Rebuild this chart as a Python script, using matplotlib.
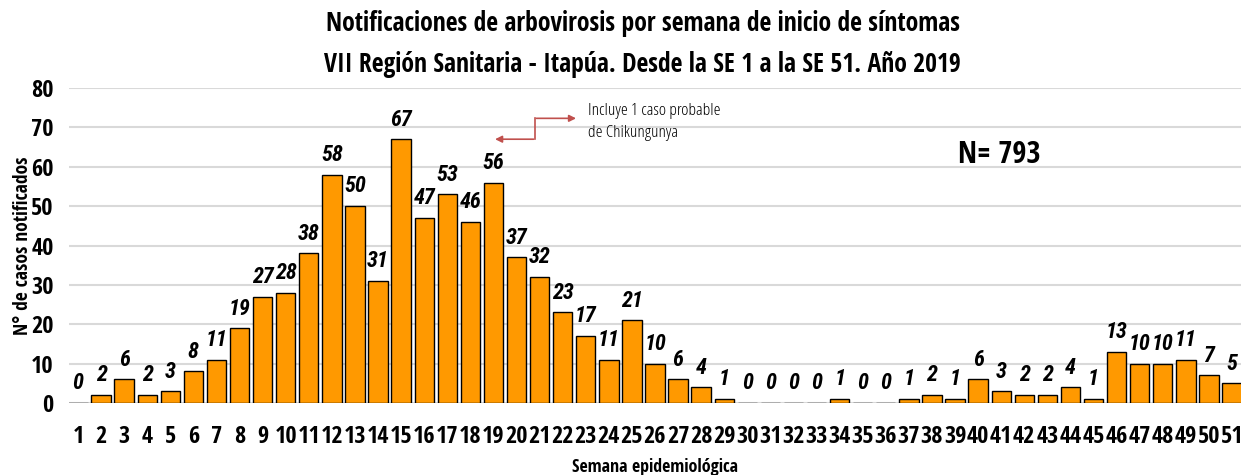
import matplotlib
matplotlib.use("Agg")
import matplotlib.pyplot as plt
from matplotlib import font_manager as fm

weeks = list(range(1, 52))
cases = [0, 2, 6, 2, 3, 8, 11, 19, 27, 28, 38, 58, 50, 31, 67, 47, 53, 46, 56, 37,
         32, 23, 17, 11, 21, 10, 6, 4, 1, 0, 0, 0, 0, 1, 0, 0, 1, 2, 1, 6,
         3, 2, 2, 4, 1, 13, 10, 10, 11, 7, 5]
yticks = [0, 10, 20, 30, 40, 50, 60, 70, 80]
title = ("Notificaciones de arbovirosis por semana de inicio de síntomas\n"
         "VII Región Sanitaria - Itapúa. Desde la SE 1 a la SE 51. Año 2019")
total_label = "N= 793"
note = "Incluye 1 caso probable\nde Chikungunya"


def _w(v):
    if isinstance(v, (int, float)):
        return int(v)
    return fm.weight_dict.get(str(v), 400)


def pick(families, weights, style):
    for fam in families:
        for wt in weights:
            for f in fm.fontManager.ttflist:
                if (f.name.startswith(fam) and f.stretch in ("condensed", "semi-condensed", "extra-condensed")
                        and f.style == style and _w(f.weight) == wt):
                    return fm.FontProperties(fname=f.fname)
    return fm.FontProperties(family="DejaVu Sans", weight="bold" if weights[0] >= 600 else "normal",
                             style=style)


fams = ["Open Sans", "Roboto Condensed", "Fira Sans Condensed", "Barlow Condensed", "Encode Sans Condensed"]
fp_bold = pick(fams, [700, 800, 600], "normal")
fp_bi = pick(fams, [700, 800, 600], "italic")
fp_reg = pick(fams, [400, 300, 500], "normal")


def fp(base, size):
    p = base.copy()
    p.set_size(size)
    return p


fig = plt.figure(figsize=(12.41, 4.75), dpi=100)
ax = fig.add_axes([0.0556, 0.1516, 0.9444, 0.6631])

ax.bar(weeks, cases, width=0.84, color="#FF9900", edgecolor="black", linewidth=1.0, zorder=3)
for w, c in zip(weeks, cases):
    ax.text(w, c + 2.2, str(c), ha="center", va="bottom", fontproperties=fp(fp_bi, 16), zorder=4)

ax.set_xlim(0.61, 51.39)
ax.set_ylim(0, 80)
ax.set_yticks(yticks)
ax.set_xticks(weeks)
ax.set_xticklabels([str(w) for w in weeks], fontproperties=fp(fp_bold, 17.5))
ax.set_yticklabels([str(t) for t in yticks], fontproperties=fp(fp_bold, 17.5))
ax.tick_params(axis="x", length=0, pad=16)
ax.tick_params(axis="y", length=0, pad=11)
ax.grid(axis="y", color="#d9d9d9", linewidth=1.5, zorder=0)
for s in ax.spines.values():
    s.set_visible(False)

ax.set_ylabel("N° de casos notificados", fontproperties=fp(fp_bold, 14))
ax.yaxis.set_label_coords(-0.031, 0.5)
ax.set_xlabel("Semana epidemiológica", fontproperties=fp(fp_bold, 13))
ax.xaxis.set_label_coords(0.5, -0.175)

fig.text(0.518, 1 - 44 / 475, title, ha="center", va="center", fontproperties=fp(fp_bold, 18.5),
         linespacing=1.65)

ax.text(40.9, 63, total_label, ha="center", va="center", fontproperties=fp(fp_bold, 22))

red = "#C0504D"
ax.plot([20.8, 20.8], [67.0, 72.3], color=red, lw=1.2, zorder=5)
ax.annotate("", xy=(18.95, 67.0), xytext=(20.86, 67.0),
            arrowprops=dict(arrowstyle="-|>", color=red, lw=1.2, mutation_scale=10))
ax.annotate("", xy=(22.7, 72.3), xytext=(20.74, 72.3),
            arrowprops=dict(arrowstyle="-|>", color=red, lw=1.2, mutation_scale=10))
ax.text(23.1, 71.4, note, ha="left", va="center", fontproperties=fp(fp_reg, 12.5), linespacing=1.45)

fig.savefig("out.png", dpi=100)
